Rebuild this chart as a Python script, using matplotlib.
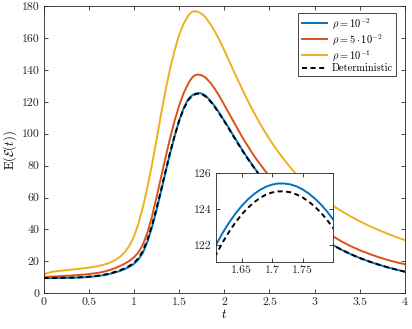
import matplotlib
matplotlib.use("Agg")
import matplotlib.pyplot as plt
from matplotlib.ticker import FormatStrFormatter

plt.rcParams['font.family'] = 'serif'
plt.rcParams['font.serif'] = ['cmr10', 'DejaVu Serif']
plt.rcParams['mathtext.fontset'] = 'cm'
plt.rcParams['axes.formatter.use_mathtext'] = True

# Time samples (denser around the peak so the inset is smooth)
t = [0, 0.02, 0.1, 0.2, 0.3, 0.4, 0.5, 0.6,
     0.65, 0.7, 0.75, 0.8, 0.85, 0.9, 0.95, 1.0, 1.05, 1.1, 1.15, 1.2, 1.25,
     1.3, 1.35, 1.4, 1.45, 1.5, 1.55,
     1.6, 1.61, 1.62, 1.63, 1.64, 1.65, 1.66, 1.67, 1.68, 1.69, 1.7,
     1.71, 1.72, 1.73, 1.74, 1.75, 1.76, 1.77, 1.78, 1.79, 1.8,
     1.85, 1.9, 1.95, 2.0, 2.05, 2.1, 2.15, 2.2, 2.25, 2.3, 2.35, 2.4,
     2.45, 2.5, 2.55, 2.6,
     2.7, 2.8, 2.9, 3.0, 3.1, 3.2, 3.3, 3.4, 3.5, 3.6, 3.7, 3.8, 3.9, 4.0]

e_rho1 = [9.5, 9.5, 9.5, 9.6, 9.7, 9.9, 10.2, 10.8,
          11.2, 11.7, 12.4, 13.2, 14.1, 15.2, 16.6, 18.4, 21.2, 25.5, 32.3, 41.3, 52.0,
          63.7, 75.8, 87.5, 98.3, 108.0, 115.8,
          121.47, 122.13, 122.73, 123.27, 123.75, 124.17, 124.53, 124.83, 125.07, 125.25, 125.37,
          125.43, 125.43, 125.38, 125.27, 125.10, 124.87, 124.59, 124.26, 123.87, 123.42,
          120.5, 116.8, 112.6, 108.2, 103.6, 98.9, 94.3, 89.8, 85.4, 81.3, 77.3, 73.4,
          69.7, 66.1, 62.7, 59.4,
          53.3, 47.7, 42.6, 38.0, 33.9, 30.3, 27.2, 24.5, 22.1, 20.0, 18.1, 16.4, 14.9, 13.5]

e_rho5 = [10.1, 10.2, 10.5, 10.8, 11.1, 11.5, 12.0, 12.8,
          13.3, 14.0, 14.9, 16.0, 17.2, 18.6, 20.3, 22.5, 25.6, 30.5, 38.0, 48.0, 60.0,
          72.5, 85.0, 97.0, 108.0, 117.5, 125.3,
          131.2, 132.25, 133.2, 134.04, 134.78, 135.41, 135.93, 136.36, 136.67, 136.88, 136.99,
          137.0, 136.94, 136.84, 136.69, 136.49, 136.24, 135.94, 135.59, 135.19, 134.74,
          131.7, 127.7, 123.1, 118.1, 113.0, 107.9, 102.8, 97.8, 93.2, 88.7, 84.5, 80.6,
          76.9, 73.4, 70.0, 66.8,
          60.5, 54.6, 49.2, 44.3, 39.8, 35.8, 32.4, 29.5, 27.0, 24.8, 22.8, 21.0, 19.5, 18.2]

e_rho10 = [10.0, 12.3, 13.5, 14.2, 14.8, 15.4, 16.1, 17.0,
           17.7, 18.5, 19.6, 21.0, 23.0, 25.8, 29.8, 35.5, 43.5, 54.0, 66.5, 80.5, 96.0,
           112.0, 127.0, 140.5, 152.0, 161.8, 168.8,
           173.8, 174.54, 175.2, 175.74, 176.16, 176.46, 176.64, 176.7, 176.67, 176.6, 176.47,
           176.28, 176.05, 175.76, 175.43, 175.04, 174.59, 174.1, 173.55, 172.96, 172.31,
           168.4, 163.65, 158.2, 152.3, 146.1, 139.8, 133.7, 127.7, 121.9, 116.3, 111.0, 106.0,
           101.2, 96.7, 92.4, 88.4,
           81.0, 74.4, 68.6, 63.5, 59.0, 55.0, 51.4, 48.1, 45.1, 42.3, 39.8, 37.5, 35.3, 33.3]

e_det = [9.6, 9.6, 9.6, 9.7, 9.8, 10.0, 10.4, 11.0,
         11.4, 12.0, 12.7, 13.6, 14.5, 15.7, 17.2, 19.0, 22.0, 26.5, 33.5, 42.5, 53.0,
         64.5, 76.5, 88.0, 98.5, 108.0, 115.5,
         120.90, 121.58, 122.20, 122.76, 123.26, 123.69, 124.06, 124.37, 124.62, 124.81, 124.93,
         124.99, 124.99, 124.94, 124.82, 124.65, 124.42, 124.14, 123.80, 123.40, 122.94,
         120.0, 116.3, 112.2, 107.8, 103.2, 98.5, 93.9, 89.4, 85.1, 81.0, 77.1, 73.3,
         69.6, 66.0, 62.6, 59.3,
         53.2, 47.7, 42.6, 38.0, 33.9, 30.3, 27.2, 24.5, 22.1, 20.0, 18.1, 16.4, 14.9, 13.5]

labels = [r'$\rho = 10^{-2}$', r'$\rho = 5\cdot10^{-2}$', r'$\rho = 10^{-1}$', 'Deterministic']
colors = ['#0072BD', '#D95319', '#EDB120']
axis_col = '#262626'
lw = 1.4


def style_axes(ax, size):
    for s in ax.spines.values():
        s.set_color(axis_col)
        s.set_linewidth(0.6)
    ax.tick_params(direction='in', top=True, right=True, length=3, width=0.6,
                   colors=axis_col, labelcolor='#262626', labelsize=size, pad=3)
    ax.xaxis.set_major_formatter(FormatStrFormatter('%g'))
    ax.yaxis.set_major_formatter(FormatStrFormatter('%g'))


def draw(ax):
    for y, c, lab in zip([e_rho1, e_rho5, e_rho10], colors, labels[:3]):
        ax.plot(t, y, color=c, lw=lw, label=lab)
    ax.plot(t, e_det, color='black', lw=lw, dashes=(2.6, 1.8), label=labels[3])


fig = plt.figure(figsize=(4.12, 3.29), dpi=100)
ax = fig.add_axes([0.1056, 0.1085, 0.8774, 0.8733])
draw(ax)
ax.set_xlim(0, 4)
ax.set_ylim(0, 180)
ax.set_xticks([0, 0.5, 1, 1.5, 2, 2.5, 3, 3.5, 4])
ax.set_yticks(range(0, 181, 20))
style_axes(ax, 8.5)
ax.set_xlabel(r'$t$', fontsize=9, labelpad=1)
ax.set_ylabel(r'$\mathrm{E}(\mathcal{E}(t))$', fontsize=9, labelpad=2)

leg = ax.legend(loc='upper right', bbox_to_anchor=(0.975, 0.976), fontsize=7.5,
                fancybox=False, framealpha=1, edgecolor='#262626',
                handlelength=2.4, handletextpad=0.5, borderpad=0.3,
                labelspacing=0.1, borderaxespad=0)
leg.get_frame().set_linewidth(0.6)

ins = fig.add_axes([0.524, 0.2046, 0.2847, 0.2687])
draw(ins)
ins.set_xlim(1.608, 1.80)
ins.set_ylim(121.07, 126)
ins.set_xticks([1.65, 1.7, 1.75])
ins.set_yticks([122, 124, 126])
style_axes(ins, 8.5)

fig.savefig('out.png', dpi=100)
